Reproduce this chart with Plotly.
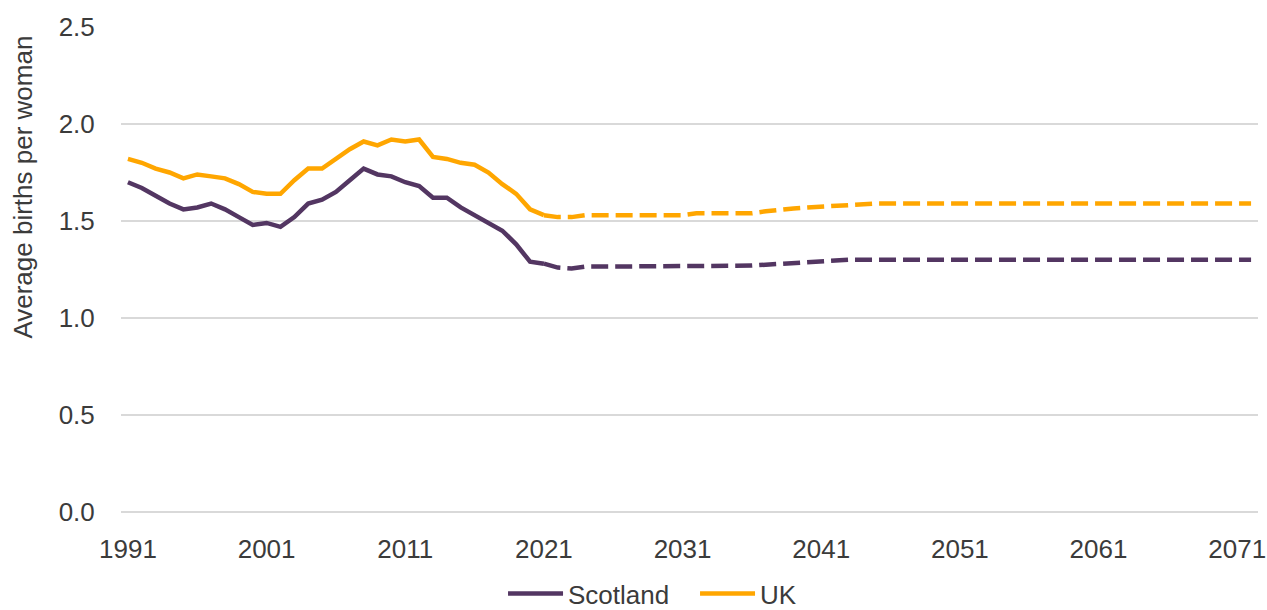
import plotly.graph_objects as go

# Observed total fertility rate, 1991-2021
years_obs = list(range(1991, 2022))
scotland_obs = [1.70, 1.67, 1.63, 1.59, 1.56, 1.57, 1.59, 1.56, 1.52, 1.48,
                1.49, 1.47, 1.52, 1.59, 1.61, 1.65, 1.71, 1.77, 1.74, 1.73,
                1.70, 1.68, 1.62, 1.62, 1.57, 1.53, 1.49, 1.45, 1.38, 1.29,
                1.28]
uk_obs = [1.82, 1.80, 1.77, 1.75, 1.72, 1.74, 1.73, 1.72, 1.69, 1.65,
          1.64, 1.64, 1.71, 1.77, 1.77, 1.82, 1.87, 1.91, 1.89, 1.92,
          1.91, 1.92, 1.83, 1.82, 1.80, 1.79, 1.75, 1.69, 1.64, 1.56,
          1.53]

# Projected total fertility rate, 2021-2072
years_proj = list(range(2021, 2073))
scotland_proj = [1.28, 1.26, 1.255, 1.265, 1.265, 1.265, 1.265, 1.265, 1.265, 1.265,
                 1.265, 1.265, 1.265, 1.265, 1.265, 1.27, 1.275, 1.28, 1.285, 1.29,
                 1.295, 1.297, 1.30, 1.30, 1.30, 1.30, 1.30, 1.30, 1.30, 1.30,
                 1.30, 1.30, 1.30, 1.30, 1.30, 1.30, 1.30, 1.30, 1.30, 1.30,
                 1.30, 1.30, 1.30, 1.30, 1.30, 1.30, 1.30, 1.30, 1.30, 1.30,
                 1.30, 1.30]
uk_proj = [1.53, 1.52, 1.52, 1.53, 1.53, 1.53, 1.53, 1.53, 1.53, 1.53,
           1.53, 1.54, 1.54, 1.54, 1.54, 1.54, 1.55, 1.56, 1.565, 1.57,
           1.575, 1.58, 1.585, 1.59, 1.59, 1.59, 1.59, 1.59, 1.59, 1.59,
           1.59, 1.59, 1.59, 1.59, 1.59, 1.59, 1.59, 1.59, 1.59, 1.59,
           1.59, 1.59, 1.59, 1.59, 1.59, 1.59, 1.59, 1.59, 1.59, 1.59,
           1.59, 1.59]

x_ticks = [1991, 2001, 2011, 2021, 2031, 2041, 2051, 2061, 2071]
y_ticks = [0.0, 0.5, 1.0, 1.5, 2.0, 2.5]

PURPLE = "#533662"
ORANGE = "#FFA600"
TEXT = "#3b3b3b"
GRID = "#d9d9d9"
FONT = "Liberation Sans, Arial, sans-serif"
FS = 26
DASH = "17px,7px"

fig = go.Figure()
fig.add_trace(go.Scatter(x=years_obs, y=scotland_obs, mode="lines", name="Scotland",
                         line=dict(color=PURPLE, width=4.5)))
fig.add_trace(go.Scatter(x=years_obs, y=uk_obs, mode="lines", name="UK",
                         line=dict(color=ORANGE, width=4.5)))
fig.add_trace(go.Scatter(x=years_proj, y=scotland_proj, mode="lines", showlegend=False,
                         line=dict(color=PURPLE, width=4.5, dash=DASH)))
fig.add_trace(go.Scatter(x=years_proj, y=uk_proj, mode="lines", showlegend=False,
                         line=dict(color=ORANGE, width=4.5, dash=DASH)))

fig.update_layout(
    width=1267, height=610,
    margin=dict(l=121, r=9, t=27, b=98, autoexpand=False),
    paper_bgcolor="white", plot_bgcolor="white",
    font=dict(family=FONT, size=FS, color=TEXT),
    showlegend=True,
    legend=dict(orientation="h", x=0.336, xanchor="left",
                yref="container", y=0.027, yanchor="middle",
                font=dict(size=FS, color=TEXT), itemwidth=55,
                entrywidth=122, entrywidthmode="pixels",
                tracegroupgap=0, bgcolor="rgba(0,0,0,0)"),
    xaxis=dict(range=[1990.5, 2072.5], tickmode="array", tickvals=x_ticks,
               ticktext=[str(v) for v in x_ticks], showgrid=False, zeroline=False,
               showline=False, ticks="outside", ticklen=14, tickcolor="rgba(0,0,0,0)",
               tickfont=dict(size=FS, color=TEXT), automargin=False),
    yaxis=dict(range=[0, 2.5], tickmode="array", tickvals=y_ticks,
               ticktext=[f"{v:.1f}" for v in y_ticks], showgrid=True, gridcolor=GRID,
               gridwidth=1.5, zeroline=True, zerolinecolor=GRID, zerolinewidth=1.5,
               showline=False, ticks="outside", ticklen=20, tickcolor="rgba(0,0,0,0)",
               tickfont=dict(size=FS, color=TEXT), automargin=False),
    annotations=[dict(text="Average births per woman", textangle=-90,
                      xref="paper", yref="paper", x=-0.087, y=0.669,
                      xanchor="center", yanchor="middle", showarrow=False,
                      font=dict(size=FS, color=TEXT))],
)

fig.write_html("out.html")
